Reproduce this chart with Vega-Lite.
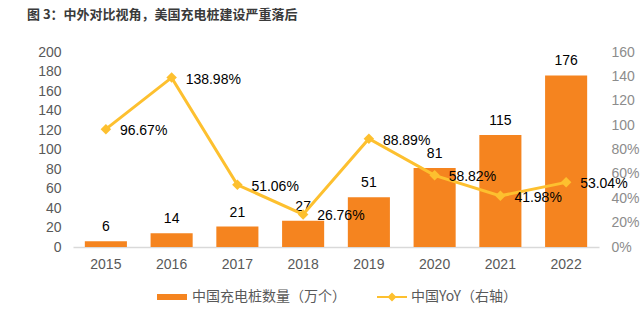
{
  "$schema": "https://vega.github.io/schema/vega-lite/v6.json",
  "width": 526,
  "height": 195,
  "autosize": "none",
  "padding": {"left": 73, "top": 52, "right": 42, "bottom": 84},
  "background": "white",
  "title": {
    "text": "图 3：中外对比视角，美国充电桩建设严重落后",
    "anchor": "start",
    "frame": "group",
    "dx": -46,
    "offset": 23,
    "font": "Noto Sans CJK SC",
    "fontSize": 13,
    "fontWeight": "bold",
    "color": "#3a3a3a"
  },
  "data": {
    "values": [
      {"year": "2015", "count": 6, "yoy": 96.67, "yoyLabel": "96.67%"},
      {"year": "2016", "count": 14, "yoy": 138.98, "yoyLabel": "138.98%"},
      {"year": "2017", "count": 21, "yoy": 51.06, "yoyLabel": "51.06%"},
      {"year": "2018", "count": 27, "yoy": 26.76, "yoyLabel": "26.76%"},
      {"year": "2019", "count": 51, "yoy": 88.89, "yoyLabel": "88.89%"},
      {"year": "2020", "count": 81, "yoy": 58.82, "yoyLabel": "58.82%"},
      {"year": "2021", "count": 115, "yoy": 41.98, "yoyLabel": "41.98%"},
      {"year": "2022", "count": 176, "yoy": 53.04, "yoyLabel": "53.04%"}
    ]
  },
  "encoding": {
    "x": {
      "field": "year",
      "type": "ordinal",
      "scale": {"paddingInner": 0.36, "paddingOuter": 0.18},
      "axis": {
        "title": null,
        "labelAngle": 0,
        "ticks": false,
        "labelPadding": 10,
        "labelFont": "Liberation Sans",
        "labelFontSize": 14,
        "labelColor": "#595959",
        "domainColor": "#d9d9d9",
        "domainWidth": 1.5
      }
    }
  },
  "layer": [
    {
      "encoding": {
        "y": {
          "field": "count",
          "type": "quantitative",
          "scale": {"domain": [0, 200]},
          "axis": {
            "title": null,
            "values": [0, 20, 40, 60, 80, 100, 120, 140, 160, 180, 200],
            "labelOverlap": false,
            "grid": false,
            "domain": false,
            "ticks": false,
            "labelPadding": 12,
            "labelFont": "Liberation Sans",
            "labelFontSize": 14,
            "labelColor": "#595959"
          }
        }
      },
      "layer": [
        {
          "mark": {"type": "bar"},
          "encoding": {
            "color": {
              "datum": "中国充电桩数量（万个）",
              "scale": {"range": ["#F5841F"]},
              "legend": {
                "title": null,
                "orient": "none",
                "legendX": 84,
                "legendY": 230,
                "padding": 0,
                "symbolType": "M-1,-0.2H1V0.2H-1Z",
                "symbolSize": 900,
                "symbolStrokeWidth": 0,
                "labelOffset": 5,
                "labelFont": "Noto Sans CJK SC",
                "labelFontSize": 14,
                "labelColor": "#595959"
              }
            }
          }
        },
        {
          "mark": {"type": "text", "dy": -14, "baseline": "middle", "font": "Liberation Sans", "fontSize": 14, "color": "#000000"},
          "encoding": {
            "text": {"field": "count", "type": "quantitative"}
          }
        }
      ]
    },
    {
      "encoding": {
        "y": {
          "field": "yoy",
          "type": "quantitative",
          "scale": {"domain": [0, 160]},
          "axis": {
            "title": null,
            "orient": "right",
            "values": [0, 20, 40, 60, 80, 100, 120, 140, 160],
            "labelOverlap": false,
            "labelExpr": "datum.value >= 100 ? datum.value : datum.value + '%'",
            "grid": false,
            "domain": false,
            "ticks": false,
            "labelPadding": 12,
            "labelFont": "Liberation Sans",
            "labelFontSize": 14,
            "labelColor": "#8c8c8c"
          }
        }
      },
      "layer": [
        {
          "mark": {"type": "line", "color": "#FDC02F", "strokeWidth": 3}
        },
        {
          "mark": {"type": "point", "shape": "diamond", "filled": true, "size": 110, "opacity": 1},
          "encoding": {
            "color": {
              "datum": "中国YoY（右轴）",
              "scale": {"range": ["#FDC02F"]},
              "legend": {
                "title": null,
                "orient": "none",
                "legendX": 304,
                "legendY": 230,
                "padding": 0,
                "symbolType": "M-1,-0.07H1V0.07H-1Z M0,-0.3L0.3,0L0,0.3L-0.3,0Z",
                "symbolSize": 900,
                "symbolOpacity": 1,
                "symbolStrokeWidth": 0,
                "labelOffset": 4,
                "labelFont": "Noto Sans CJK SC",
                "labelFontSize": 14,
                "labelColor": "#595959"
              }
            }
          }
        },
        {
          "mark": {"type": "text", "align": "left", "baseline": "middle", "dx": 14, "dy": 2, "font": "Liberation Sans", "fontSize": 14, "color": "#000000"},
          "encoding": {
            "text": {"field": "yoyLabel"}
          }
        }
      ]
    }
  ],
  "resolve": {"scale": {"y": "independent", "color": "independent"}, "legend": {"color": "independent"}},
  "config": {
    "view": {"stroke": null},
    "axis": {"grid": false, "labelOverlap": false},
    "axisY": {"labelOverlap": false}
  }
}
